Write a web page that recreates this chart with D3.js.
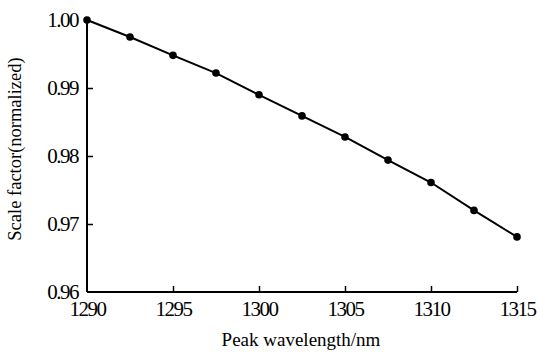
<!DOCTYPE html>
<html>
<head>
<meta charset="utf-8">
<script src="https://cdn.jsdelivr.net/npm/d3@7"></script>
<style>
  body { margin: 0; background: #fff; }
</style>
</head>
<body>
<div id="Canvas"></div>
<script>
// 資料
let wavelength = [1290, 1292.5, 1295, 1297.5, 1300, 1302.5, 1305, 1307.5, 1310, 1312.5, 1315]
let scaleFactor = [1.0000, 0.9975, 0.9948, 0.9922, 0.9890, 0.9859, 0.9828, 0.9794, 0.9761, 0.9720, 0.9681]
let xTicks = [1290, 1295, 1300, 1305, 1310, 1315]
let yTicks = [0.96, 0.97, 0.98, 0.99, 1.00]

let serif = "'Times New Roman', 'Liberation Serif', 'DejaVu Serif', serif"

let svg = d3.select("#Canvas")
    .append("svg")
    .attr("width", 537)
    .attr("height", 353)

let xScale = d3.scaleLinear()
    .domain([1290, 1315])
    .range([87, 517])
let yScale = d3.scaleLinear()
    .domain([0.96, 1.00])
    .range([292, 20])

// x軸
let xAxis = svg.append("g")
    .attr("transform", "translate(0,292)")
    .call(d3.axisBottom(xScale).tickValues(xTicks).tickSize(-6).tickPadding(9).tickFormat(d3.format("d")))
xAxis.attr("font-family", serif)
xAxis.select(".domain").attr("stroke-width", 2).attr("d", "M87,0H517")
xAxis.selectAll(".tick line").attr("stroke-width", 1.5)
xAxis.selectAll(".tick text")
    .style("font-family", serif)
    .style("font-size", "21px")
    .style("letter-spacing", "-1.5px")

// y軸
let yAxis = svg.append("g")
    .attr("transform", "translate(87,0)")
    .call(d3.axisLeft(yScale).tickValues(yTicks).tickSize(-6).tickPadding(9).tickFormat(d3.format(".2f")))
yAxis.attr("font-family", serif)
yAxis.select(".domain").attr("stroke-width", 2).attr("d", "M0,292V20")
yAxis.selectAll(".tick line").attr("stroke-width", 1.5)
yAxis.selectAll(".tick text")
    .style("font-family", serif)
    .style("font-size", "21px")
    .style("letter-spacing", "-1.5px")
xAxis.selectAll(".tick").filter(d => d === 1290).select("line").remove()
yAxis.selectAll(".tick").filter(d => d === 0.96 || d === 1.00).select("line").remove()

// 標題
svg.append("text")
    .attr("x", 301)
    .attr("y", 346)
    .attr("text-anchor", "middle")
    .style("font-family", serif)
    .style("font-size", "19px")
    .text("Peak wavelength/nm")
svg.append("text")
    .attr("transform", "translate(21,149) rotate(-90)")
    .attr("text-anchor", "middle")
    .style("font-family", serif)
    .style("font-size", "18.5px")
    .text("Scale factor(normalized)")

// 線
let points = wavelength.map((d, i) => ({ x: d, y: scaleFactor[i] }))
svg.append("path")
    .datum(points)
    .attr("fill", "none")
    .attr("stroke", "#000")
    .attr("stroke-width", 2)
    .attr("d", d3.line().x(d => xScale(d.x)).y(d => yScale(d.y)))
svg.append("g")
    .selectAll("circle")
    .data(points)
    .enter()
    .append("circle")
    .attr("cx", d => xScale(d.x))
    .attr("cy", d => yScale(d.y))
    .attr("r", 3.8)
    .style("fill", "#000")
</script>
</body>
</html>
